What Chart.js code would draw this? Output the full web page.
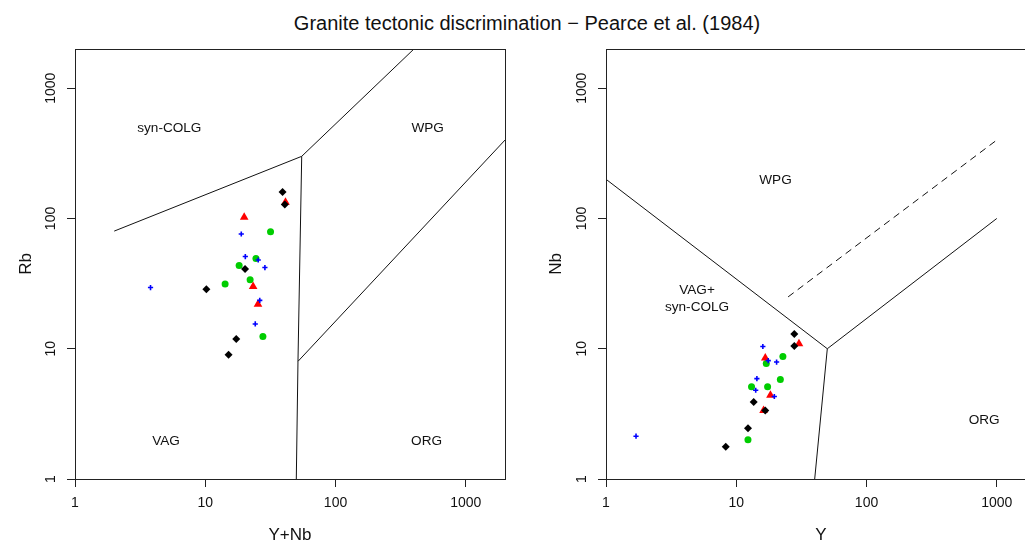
<!DOCTYPE html>
<html>
<head>
<meta charset="utf-8">
<script src="https://cdn.jsdelivr.net/npm/chart.js@4.4.1/dist/chart.umd.min.js"></script>
<style>
	body { margin: 0; width: 1025px; height: 543px; overflow: hidden; background: #fff; position: relative; font-family: "Liberation Sans", Arial, sans-serif; }
	#title { position: absolute; left: 0; top: 12px; width: 1054px; text-align: center; font-size: 20px; line-height: 22px; color: #111; }
	.panel { position: absolute; top: 0; width: 520px; height: 543px; }
</style>
</head>
<body>
<div id="title">Granite tectonic discrimination − Pearce et al. (1984)</div>
<div class="panel" style="left:0"><canvas id="rbChart"></canvas></div>
<div class="panel" style="left:530px"><canvas id="nbChart"></canvas></div>
<script>
const FONT = '"Liberation Sans", Arial, sans-serif';
Chart.defaults.font.family = FONT;
Chart.defaults.color = "#111";

// axis ticks (both panels, both axes)
const axisTicks = [1, 10, 100, 1000];

// left panel: Rb vs Y+Nb
const blueYNb = [18.9, 20.3, 25.5, 28.7, 3.8, 26.2, 24.2];
const blueRb = [76, 51, 48, 42, 29.5, 23.5, 15.5];
const blackYNb = [39.2, 40.8, 20.2, 10.2, 17.3, 15.1];
const blackRb = [160, 128, 41, 28.6, 11.9, 9.0];
const redYNb = [19.9, 41.3, 23.3, 25.4];
const redRb = [102, 133, 30, 22];
const greenYNb = [31.7, 24.5, 18.2, 22.1, 14.2, 27.7];
const greenRb = [79, 49.3, 43.5, 33.9, 31.4, 12.4];

// right panel: Nb vs Y
const blueY = [16.0, 17.6, 20.4, 14.4, 14.1, 19.6, 1.7];
const blueNb = [10.4, 8.1, 7.9, 5.9, 4.8, 4.3, 2.13];
const blackY = [27.9, 27.9, 13.6, 16.7, 12.3, 8.3];
const blackNb = [13.0, 10.5, 3.9, 3.35, 2.45, 1.77];
const redY = [30.3, 16.7, 18.3, 16.2];
const redNb = [10.9, 8.5, 4.4, 3.35];
const greenY = [17.0, 22.8, 21.8, 13.1, 17.4, 12.3];
const greenNb = [7.7, 8.7, 5.8, 5.1, 5.1, 2.0];

// field boundaries (Pearce et al. 1984)
const rbBoundaries = [
	[[2, 80], [55, 300], [400, 2000]],
	[[55, 300], [51.5, 8], [50, 1]],
	[[51.5, 8], [2000, 400]],
];
const nbBoundaries = [
	[[1, 200], [50, 10]],
	[[50, 10], [1000, 100]],
	[[50, 10], [40, 1]],
];
const nbDashed = [[25, 25], [1000, 400]];

// field names
const rbFieldNames = ["syn-COLG", "WPG", "VAG", "ORG"];
const rbFieldX = [5.3, 510, 5, 500];
const rbFieldY = [490, 490, 1.95, 1.95];
const nbFieldNames = ["WPG", "VAG+\nsyn-COLG", "ORG"];
const nbFieldX = [20, 5, 800];
const nbFieldY = [195, 24, 2.85];

const frameAndText = {
	id: "frameAndText",
	afterDatasetsDraw(chart, args, opts) {
		const { ctx, chartArea: a, scales } = chart;
		ctx.save();
		ctx.strokeStyle = "#222";
		ctx.lineWidth = 1;
		ctx.strokeRect(a.left + 0.5, a.top + 0.5, a.right - a.left, a.bottom - a.top);
		ctx.font = "13.6px " + FONT;
		ctx.fillStyle = "#111";
		ctx.textAlign = "center";
		ctx.textBaseline = "middle";
		opts.names.forEach((t, i) => {
			const x = scales.x.getPixelForValue(opts.x[i]);
			const y = scales.y.getPixelForValue(opts.y[i]);
			const lines = t.split("\n");
			lines.forEach((ln, j) => ctx.fillText(ln, x, y + (j - (lines.length - 1) / 2) * 17));
		});
		ctx.restore();
	},
};

function pts(xs, ys) {
	return xs.map((v, i) => ({ x: v, y: ys[i] }));
}

function logScale(title, isX, size, titlePad) {
	return {
		type: "logarithmic",
		min: 1,
		max: 2000,
		afterBuildTicks: (s) => {
			s.ticks = axisTicks.map((v) => ({ value: v }));
		},
		afterFit: (s) => {
			if (isX) s.height = size;
			else s.width = size;
		},
		ticks: {
			autoSkip: false,
			font: { size: 14 },
			color: "#111",
			padding: isX ? 8 : 0,
			minRotation: isX ? 0 : 90,
			maxRotation: isX ? 0 : 90,
			crossAlign: isX ? "near" : "center",
			callback: (v) => String(v),
		},
		grid: { display: true, drawOnChartArea: false, drawTicks: true, tickLength: 8, color: "#222", lineWidth: 1 },
		border: { display: false },
		title: { display: true, text: title, font: { size: 17 }, color: "#111", padding: titlePad },
	};
}

function buildChart(canvasId, groups, lines, dashed, field, xTitle, yTitle, yWidth, rightPad) {
	const datasets = [];
	groups.forEach((g) => {
		datasets.push({
			data: g.data,
			showLine: false,
			pointStyle: g.style,
			pointRadius: g.r,
			pointHoverRadius: g.r,
			backgroundColor: g.color,
			borderColor: g.color,
			borderWidth: g.bw,
		});
	});
	lines.forEach((l) => {
		datasets.push({ data: l.map((p) => ({ x: p[0], y: p[1] })), showLine: true, pointRadius: 0, borderColor: "#111", borderWidth: 1 });
	});
	if (dashed) {
		datasets.push({ data: dashed.map((p) => ({ x: p[0], y: p[1] })), showLine: true, pointRadius: 0, borderColor: "#111", borderWidth: 1, borderDash: [7, 5] });
	}
	return new Chart(document.getElementById(canvasId), {
		type: "scatter",
		data: { datasets },
		options: {
			responsive: true,
			maintainAspectRatio: false,
			animation: false,
			layout: { padding: { left: 0, top: 49, right: rightPad, bottom: 0 } },
			plugins: { legend: { display: false }, tooltip: { enabled: false }, frameAndText: field },
			scales: {
				x: logScale(xTitle, true, 64, { top: 0, bottom: -3 }),
				y: logScale(yTitle, false, yWidth, { top: 16, bottom: 0 }),
			},
		},
		plugins: [frameAndText],
	});
}

// drawing order: first dataset on top
buildChart(
	"rbChart",
	[
		{ data: pts(blueYNb, blueRb), style: "cross", r: 2.6, bw: 1.6, color: "#0000ff" },
		{ data: pts(blackYNb, blackRb), style: "rectRot", r: 4, bw: 0, color: "#000000" },
		{ data: pts(redYNb, redRb), style: "triangle", r: 5, bw: 0, color: "#ff0000" },
		{ data: pts(greenYNb, greenRb), style: "circle", r: 3.5, bw: 0, color: "#00cd00" },
	],
	rbBoundaries,
	null,
	{ names: rbFieldNames, x: rbFieldX, y: rbFieldY },
	"Y+Nb",
	"Rb",
	75,
	15
);

buildChart(
	"nbChart",
	[
		{ data: pts(blueY, blueNb), style: "cross", r: 2.6, bw: 1.6, color: "#0000ff" },
		{ data: pts(blackY, blackNb), style: "rectRot", r: 4, bw: 0, color: "#000000" },
		{ data: pts(redY, redNb), style: "triangle", r: 5, bw: 0, color: "#ff0000" },
		{ data: pts(greenY, greenNb), style: "circle", r: 3.5, bw: 0, color: "#00cd00" },
	],
	nbBoundaries,
	nbDashed,
	{ names: nbFieldNames, x: nbFieldX, y: nbFieldY },
	"Y",
	"Nb",
	76,
	14
);
</script>
</body>
</html>
